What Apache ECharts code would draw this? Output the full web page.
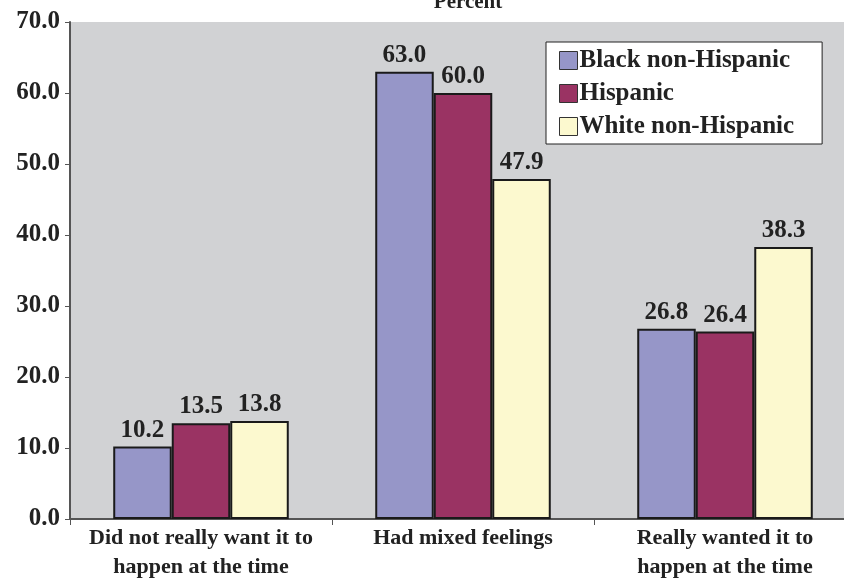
<!DOCTYPE html>
<html>
<head>
<meta charset="utf-8">
<script src="https://cdn.jsdelivr.net/npm/echarts@6/dist/echarts.min.js"></script>
<style>
  html, body { margin: 0; padding: 0; background: #ffffff; }
  #chart { width: 844px; height: 583px; }
</style>
</head>
<body>
<div id="chart"></div>
<script>
// Feelings about the pregnancy, by race/ethnicity (percent)
const categories = [
  'Did not really want it to\nhappen at the time',
  'Had mixed feelings',
  'Really wanted it to\nhappen at the time'
];
const seriesNames = ['Black non-Hispanic', 'Hispanic', 'White non-Hispanic'];
const blackNonHispanic = [10.2, 63.0, 26.8];
const hispanic = [13.5, 60.0, 26.4];
const whiteNonHispanic = [13.8, 47.9, 38.3];
const seriesColors = ['#9696C8', '#9A3363', '#FCF9CF'];

const serif = '"Liberation Serif", "DejaVu Serif", serif';

const chart = echarts.init(document.getElementById('chart'), null, { renderer: 'canvas' });

const values = [blackNonHispanic, hispanic, whiteNonHispanic];

chart.setOption({
  animation: false,
  backgroundColor: '#ffffff',
  title: {
    text: 'Percent',
    left: 463,
    textAlign: 'center',
    top: -13,
    textStyle: { fontFamily: serif, fontWeight: 'bold', fontSize: 21, color: '#222' }
  },
  grid: {
    left: 70, width: 786, top: 22, height: 497,
    outerBoundsMode: 'none',
    show: true,
    backgroundColor: '#D1D2D4',
    borderWidth: 0
  },
  legend: {
    left: 546,
    top: 42,
    width: 276,
    orient: 'vertical',
    backgroundColor: '#ffffff',
    borderColor: '#222',
    borderWidth: 1,
    borderRadius: 0,
    padding: [6, 28, 5, 13],
    itemGap: 8,
    itemWidth: 18,
    itemHeight: 18,
    icon: 'rect',
    data: seriesNames,
    textStyle: { fontFamily: serif, fontWeight: 'bold', fontSize: 25, color: '#222', padding: [0, 0, 0, -3] },
    itemStyle: { borderColor: '#333', borderWidth: 1 }
  },
  xAxis: {
    type: 'category',
    data: categories,
    axisLine: { show: true, lineStyle: { color: '#555', width: 2 } },
    axisTick: { show: true, alignWithLabel: false, length: 6, lineStyle: { color: '#555', width: 1 } },
    axisLabel: {
      fontFamily: serif, fontWeight: 'bold', fontSize: 22, color: '#222',
      margin: 5, lineHeight: 29, interval: 0
    },
    splitLine: { show: false }
  },
  yAxis: {
    type: 'value',
    min: 0, max: 70, interval: 10,
    axisLine: { show: true, lineStyle: { color: '#555', width: 2 } },
    axisTick: { show: true, length: 5, lineStyle: { color: '#555', width: 1 } },
    axisLabel: {
      fontFamily: serif, fontWeight: 'bold', fontSize: 25, color: '#222',
      margin: 10,
      formatter: v => v.toFixed(1)
    },
    splitLine: { show: false }
  },
  series: seriesNames.map((name, i) => ({
    name,
    type: 'bar',
    data: values[i],
    barGap: '0%',
    barCategoryGap: '33%',
    itemStyle: { color: seriesColors[i], borderColor: '#1a1a1a', borderWidth: 2 },
    label: {
      show: true,
      position: 'top',
      distance: 4,
      fontFamily: serif, fontWeight: 'bold', fontSize: 25, color: '#222',
      formatter: p => p.value.toFixed(1)
    }
  }))
});
</script>
</body>
</html>
